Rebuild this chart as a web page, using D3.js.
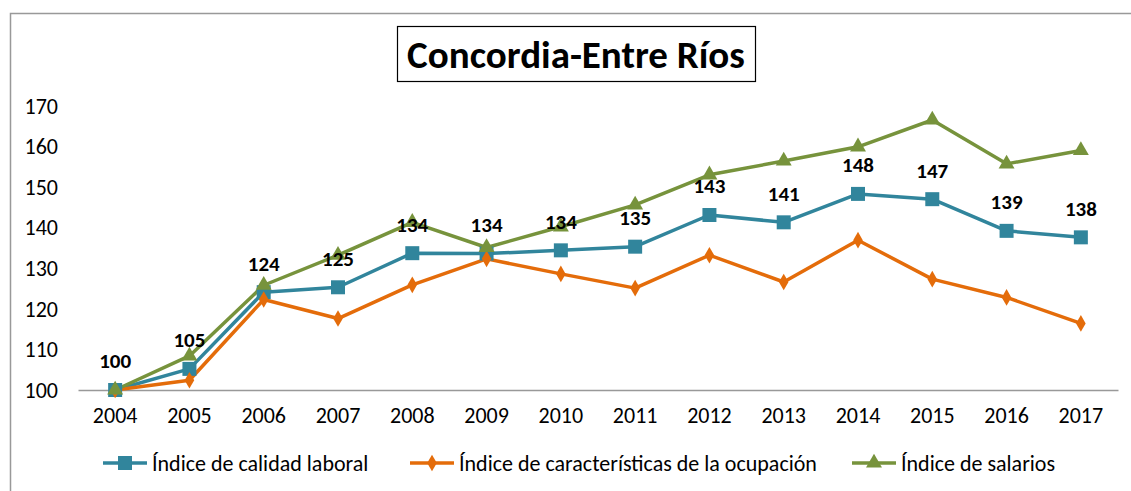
<!DOCTYPE html>
<html>
<head>
<meta charset="utf-8">
<script src="https://d3js.org/d3.v7.min.js"></script>
<style>
  body { margin: 0; background: #fff; }
  text { font-family: Carlito, Lato, "Open Sans", sans-serif; }
</style>
</head>
<body>
<svg id="chart" width="1131" height="491"></svg>
<script>
// data
var years = ["2004","2005","2006","2007","2008","2009","2010","2011","2012","2013","2014","2015","2016","2017"];
var calidad = [100, 105.2, 124.1, 125.3, 133.7, 133.6, 134.4, 135.3, 143.1, 141.3, 148.3, 147.0, 139.2, 137.6];
var caracteristicas = [100, 102.4, 122.3, 117.6, 125.9, 132.3, 128.6, 125.1, 133.2, 126.6, 136.9, 127.3, 122.8, 116.4];
var salarios = [100, 108.4, 125.8, 133.2, 141.3, 135.1, 140.2, 145.6, 153.0, 156.4, 159.9, 166.5, 155.7, 159.0];
var calidadLabels = ["100","105","124","125","134","134","134","135","143","141","148","147","139","138"];
var yTicks = [100, 110, 120, 130, 140, 150, 160, 170];

var series = [
  {name: "Índice de calidad laboral", values: calidad, color: "#31859C", marker: "square"},
  {name: "Índice de características de la ocupación", values: caracteristicas, color: "#E46C0A", marker: "diamond"},
  {name: "Índice de salarios", values: salarios, color: "#77933C", marker: "triangle"}
];

var svg = d3.select("#chart");

// outer frame
svg.append("rect").attr("x", 10.5).attr("y", 13.5).attr("width", 1140).attr("height", 500)
  .attr("fill", "none").attr("stroke", "#999").attr("stroke-width", 1.5);

var x = d3.scaleBand().domain(years).range([78, 1118]).padding(0);
var y = d3.scaleLinear().domain([100, 170]).range([390, 105.8]);

// title
var tg = svg.append("g");
tg.append("rect").attr("x", 397.5).attr("y", 26.5).attr("width", 358).attr("height", 55)
  .attr("fill", "#fff").attr("stroke", "#000").attr("stroke-width", 1.2);
tg.append("text").attr("x", 576).attr("y", 54).attr("dy", "0.35em").attr("text-anchor", "middle")
  .style("font-size", "39px").style("font-weight", "bold").text("Concordia-Entre Ríos");

// y axis labels
svg.append("g").selectAll("text").data(yTicks).enter().append("text")
  .attr("x", 58).attr("y", function(d) { return y(d); }).attr("dy", "0.35em")
  .attr("text-anchor", "end").style("font-size", "22px").attr("fill", "#000")
  .text(function(d) { return d; });

// x axis
var xAxis = svg.append("g").attr("transform", "translate(0,390)")
  .call(d3.axisBottom(x).tickSize(0).tickPadding(17));
xAxis.select(".domain").attr("stroke", "#999").attr("stroke-width", 1.5);
xAxis.selectAll("text").style("font-size", "22px").style("font-family", "Carlito, Lato, sans-serif").attr("fill", "#000");

function cx(i) { return x(years[i]) + x.bandwidth() / 2; }

var symbols = {
  square: d3.symbol().type(d3.symbolSquare).size(196),
  diamond: d3.symbol().type(d3.symbolDiamond).size(80),
  triangle: d3.symbol().type(d3.symbolTriangle).size(110)
};

var line = d3.line().x(function(d, i) { return cx(i); }).y(function(d) { return y(d); });

series.forEach(function(s) {
  svg.append("path").datum(s.values).attr("d", line)
    .attr("fill", "none").attr("stroke", s.color).attr("stroke-width", 3.5).attr("stroke-linejoin", "round");
});
series.forEach(function(s) {
  svg.append("g").selectAll("path").data(s.values).enter().append("path")
    .attr("d", symbols[s.marker])
    .attr("transform", function(d, i) { return "translate(" + cx(i) + "," + y(d) + ")"; })
    .attr("fill", s.color);
});

// data labels for calidad laboral
svg.append("g").selectAll("text").data(calidad).enter().append("text")
  .attr("x", function(d, i) { return cx(i); })
  .attr("y", function(d) { return y(d) - 29; })
  .attr("dy", "0.35em")
  .attr("text-anchor", "middle").style("font-size", "21px").style("font-weight", "bold")
  .text(function(d, i) { return calidadLabels[i]; });

// legend
var legendX = [103, 410, 852];
var lg = svg.append("g");
series.forEach(function(s, i) {
  var g = lg.append("g").attr("transform", "translate(" + legendX[i] + ",463)");
  g.append("line").attr("x1", 0).attr("x2", 44).attr("stroke", s.color).attr("stroke-width", 3.5);
  g.append("path").attr("d", symbols[s.marker]).attr("transform", "translate(22,0)").attr("fill", s.color);
  g.append("text").attr("x", 49).attr("dy", "0.35em").style("font-size", "22px").text(s.name);
});
</script>
</body>
</html>
